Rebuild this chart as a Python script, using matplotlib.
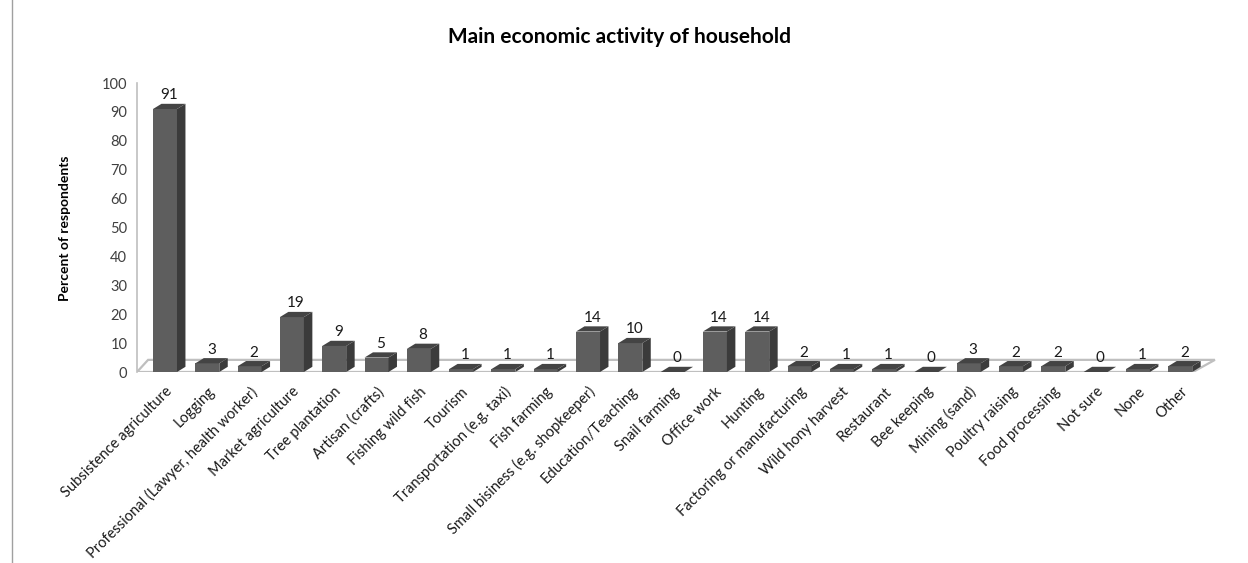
import matplotlib.pyplot as plt
from matplotlib.patches import Polygon
from matplotlib.lines import Line2D

# Categories and percentages
activities = ['Subsistence agriculture', 'Logging', 'Professional (Lawyer, health worker)',
              'Market agriculture', 'Tree plantation', 'Artisan (crafts)', 'Fishing wild fish',
              'Tourism', 'Transportation (e.g. taxi)', 'Fish farming',
              'Small bisiness (e.g. shopkeeper)', 'Education/Teaching', 'Snail farming',
              'Office work', 'Hunting', 'Factoring or manufacturing', 'Wild hony harvest',
              'Restaurant', 'Bee keeping', 'Mining (sand)', 'Poultry raising',
              'Food processing', 'Not sure', 'None', 'Other']
percents = [91, 3, 2, 19, 9, 5, 8, 1, 1, 1, 14, 10, 0, 14, 14, 2, 1, 1, 0, 3, 2, 2, 0, 1, 2]
y_ticks = list(range(0, 101, 10))

plt.rcParams['font.family'] = ['Lato', 'DejaVu Sans']

fig = plt.figure(figsize=(12.48, 5.63), dpi=100)
ax = fig.add_axes([137 / 1248, (563 - 372) / 563, (1220 - 137) / 1248, (372 - 83) / 563])

n = len(activities)
ax.set_xlim(-0.662, 24.94)
ax.set_ylim(0, 100)

# pseudo-3D depth (data units)
bw = 0.567
dx = 0.2
dy = 1.8

# floor
floor = Polygon([(-0.662, 0), (n - 0.7, 0), (n - 0.18, 4.2), (-0.40, 4.2)],
                closed=True, facecolor='white', edgecolor='#bfbfbf', lw=1.6, zorder=1)
ax.add_patch(floor)

front_col = '#5e5e5e'
side_col = '#3b3b3b'
top_col = '#444444'

xs = list(range(n))
ax.bar(xs, percents, width=bw, color=front_col, zorder=3, linewidth=0)
for x, v in zip(xs, percents):
    l, r = x - bw / 2, x + bw / 2
    side = Polygon([(r, 0), (r + dx, dy), (r + dx, v + dy), (r, v)],
                   closed=True, facecolor=side_col, edgecolor='none', zorder=3)
    top = Polygon([(l, v), (r, v), (r + dx, v + dy), (l + dx, v + dy)],
                  closed=True, facecolor=top_col, edgecolor='none', zorder=4)
    ax.add_patch(side)
    ax.add_patch(top)
    ax.text(x + dx / 2, v + dy + 0.5, str(v), ha='center', va='bottom',
            fontsize=11, color='#1a1a1a', zorder=5)

ax.set_yticks(y_ticks)
ax.set_yticklabels([str(t) for t in y_ticks], fontsize=10.5, color='#404040')
ax.tick_params(axis='y', length=0, pad=7)
ax.set_xticks(xs)
ax.set_xticklabels(activities, rotation=45, ha='right', rotation_mode='anchor',
                   fontsize=10.5, color='#1a1a1a')
ax.tick_params(axis='x', length=0, pad=9)

for s in ['top', 'right', 'bottom']:
    ax.spines[s].set_visible(False)
ax.spines['left'].set_color('#bfbfbf')
ax.spines['left'].set_linewidth(1.2)

fig.text(620 / 1248, 1 - 37 / 563, 'Main economic activity of household',
         ha='center', va='center', fontsize=15, fontweight='bold')
fig.text(65 / 1248, 1 - 228 / 563, 'Percent of respondents', rotation=90,
         ha='center', va='center', fontsize=10, fontweight='bold')

# chart border on the left side
fig.add_artist(Line2D([12 / 1248, 12 / 1248], [0, 1], color='#a0a0a0', lw=1))

plt.savefig('out.png', dpi=100)
